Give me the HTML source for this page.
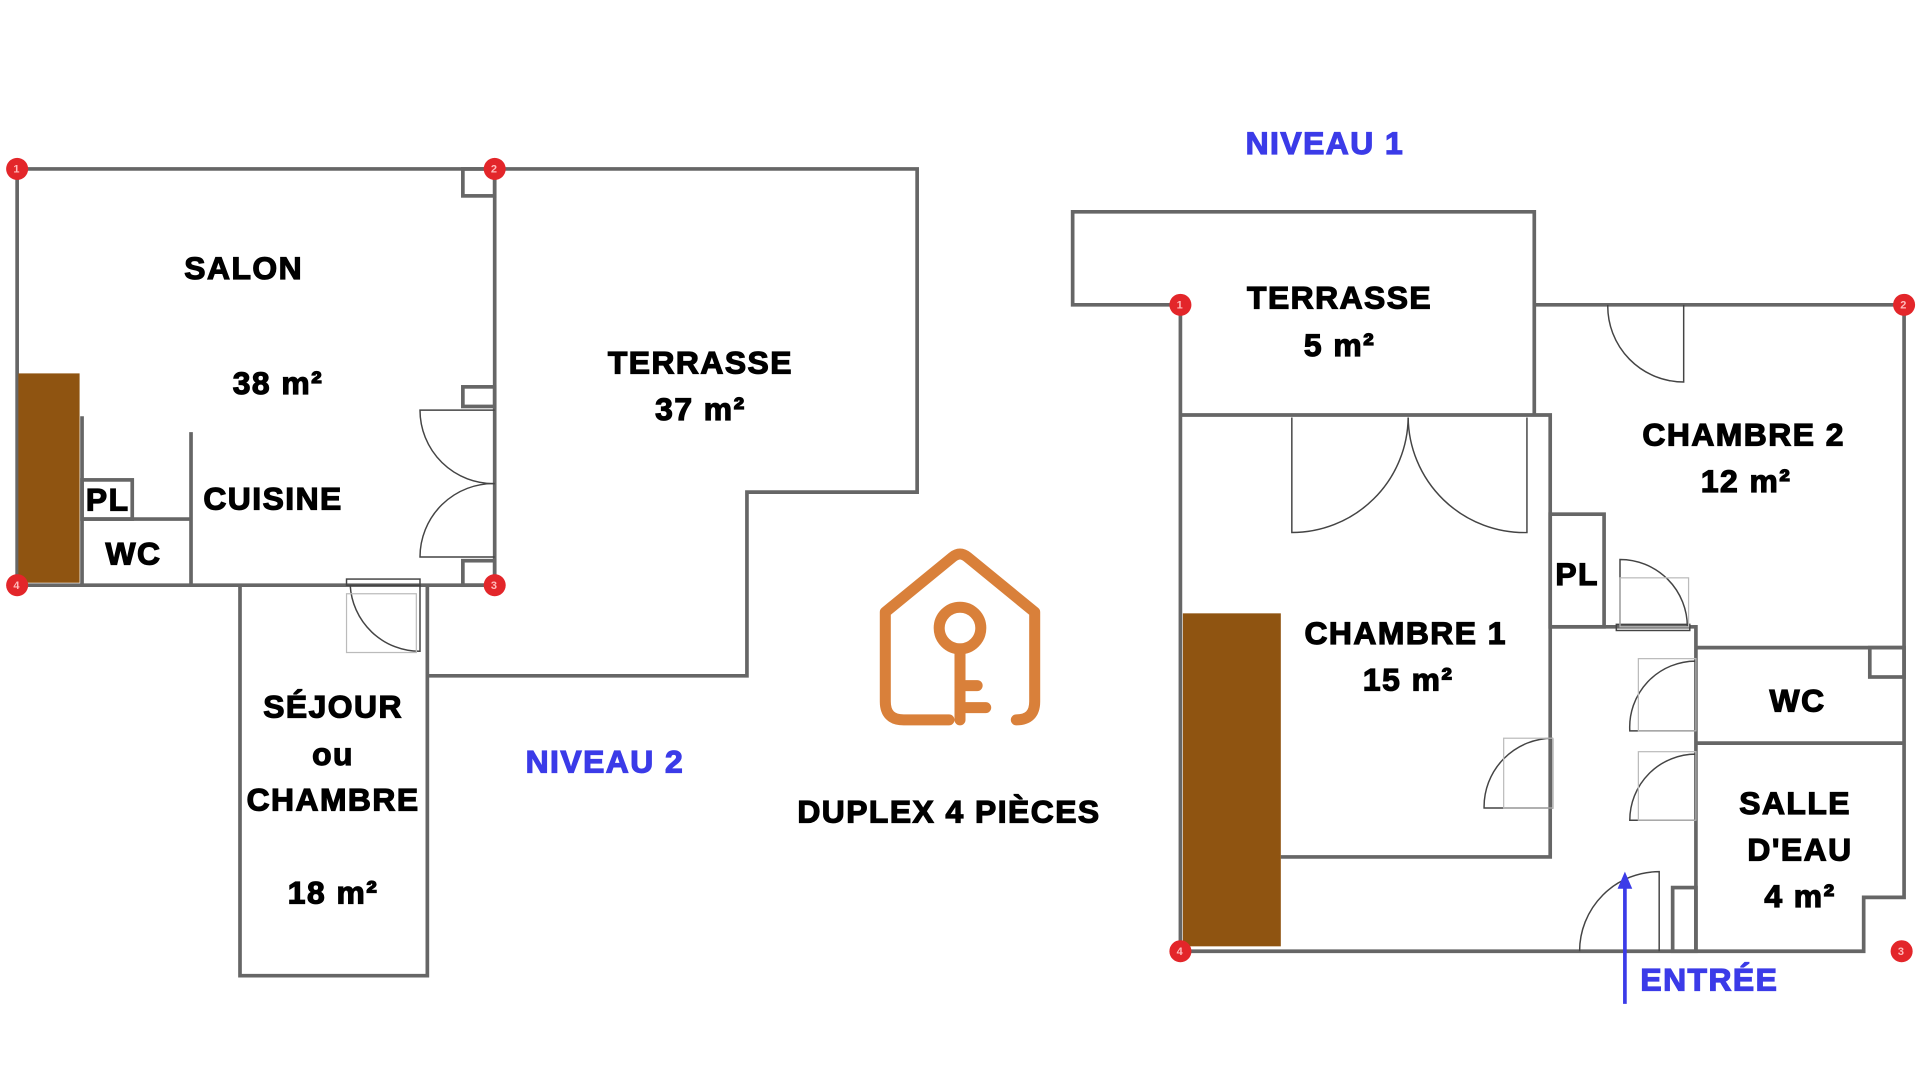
<!DOCTYPE html>
<html><head><meta charset="utf-8"><style>
html,body{margin:0;padding:0;background:#fff}
svg{display:block}
text{font-family:"Liberation Sans",sans-serif;font-weight:bold;text-anchor:middle;letter-spacing:1.2px}
</style></head><body>
<svg width="1920" height="1081" viewBox="0 0 1568 883" preserveAspectRatio="none">
<rect width="1568" height="883" fill="#fff"/>
<g fill="none" stroke="#666" stroke-width="3">
<path d="M14 138 H749 V402 H610 V552 H349"/>
<path d="M14 138 V478 H404 V138"/>
<path d="M196 478 V797 H349 V478"/>
<rect x="378" y="138" width="26" height="22"/>
<rect x="378" y="316" width="26" height="16"/>
<rect x="378" y="458" width="26" height="20"/>
<path d="M67 340 V478"/>
<rect x="67" y="392" width="41" height="32"/>
<path d="M67 424 H156"/>
<path d="M156 353 V478"/>
<path d="M964 249 H876 V173 H1253 V339"/>
<path d="M1253 249 H1555 V733 H1522 V777 H964 V249"/>
<path d="M964 339 H1266 V700 H1046"/>
<rect x="1266" y="420" width="44" height="92"/>
<path d="M1266 512 H1385 V777"/>
<path d="M1385 529 H1555"/>
<path d="M1385 607 H1555"/>
<rect x="1527" y="529" width="28" height="24"/>
<rect x="1366" y="725" width="19" height="52"/>
</g>
<g fill="none" stroke="#444" stroke-width="1.2">
<path d="M404 335 H343 A60 60 0 0 0 404 395"/>
<path d="M404 455 H343 A60 60 0 0 1 404 395"/>
<path d="M343 478 V532 A57 57 0 0 1 286 478"/>
<rect x="283" y="473" width="60" height="5"/>
<path d="M1055 341 V435 A95 95 0 0 0 1150 341"/>
<path d="M1247 341 V435 A95 95 0 0 1 1150 341"/>
<path d="M1375 249 V312 A62 62 0 0 1 1313 249"/>
<path d="M1323 512 V457 A55 55 0 0 1 1378 512"/>
<rect x="1320" y="510" width="60" height="5"/>
<path d="M1385 540 V597 H1331 A54 54 0 0 1 1385 540"/>
<path d="M1385 616 V670 H1331 A54 54 0 0 1 1385 616"/>
<path d="M1268 603 V660 H1212 A56 56 0 0 1 1268 603"/>
<path d="M1355 777 V712 A65 65 0 0 0 1290 777"/>
</g>
<g fill="none" stroke="#bbb" stroke-width="1">
<rect x="1323" y="472" width="56" height="40"/>
<rect x="1338" y="538" width="47" height="59"/>
<rect x="1338" y="614" width="47" height="56"/>
<rect x="1228" y="603" width="40" height="57"/>
<rect x="283" y="485" width="57" height="48"/>
</g>
<rect x="15" y="305" width="50" height="171" fill="#8f5411"/>
<rect x="966" y="501" width="80" height="272" fill="#8f5411"/>
<g fill="#e3262a">
<circle cx="14" cy="138" r="9"/><circle cx="404" cy="138" r="9"/>
<circle cx="14" cy="478" r="9"/><circle cx="404" cy="478" r="9"/>
<circle cx="964" cy="249" r="9"/><circle cx="1555" cy="249" r="9"/>
<circle cx="964" cy="777" r="9"/><circle cx="1553" cy="777" r="9"/>
</g>
<g font-size="9" fill="#fbb" style="font-weight:normal;letter-spacing:0">
<text x="14" y="141">1</text><text x="404" y="141">2</text>
<text x="14" y="481">4</text><text x="404" y="481">3</text>
<text x="964" y="252">1</text><text x="1555" y="252">2</text>
<text x="964" y="780">4</text><text x="1553" y="780">3</text>
</g>
<g fill="none" stroke="#d9803a" stroke-width="9" stroke-linecap="round" stroke-linejoin="round">
<path d="M775 588 H738 Q723 588 723 573 V500 L778 455 Q784 450 790 455 L845 500 V573 Q845 588 830 588"/>
<circle cx="784" cy="513" r="17"/>
<path d="M784 530 V588 M784 560 H798 M784 578 H805"/>
</g>
<path d="M1327 820 V722" stroke="#3b3be8" stroke-width="3"/>
<path d="M1321 726 L1327 712 L1333 726 Z" fill="#3b3be8"/>
<g font-size="26" fill="#000" stroke="#000" stroke-width="1">
<text x="199" y="228">SALON</text>
<text x="227" y="322">38 m²</text>
<text x="223" y="416">CUISINE</text>
<text x="88" y="417">PL</text>
<text x="109" y="461">WC</text>
<text x="572" y="305">TERRASSE</text>
<text x="572" y="343">37 m²</text>
<text x="272" y="586">SÉJOUR</text>
<text x="272" y="625">ou</text>
<text x="272" y="662">CHAMBRE</text>
<text x="272" y="738">18 m²</text>
<text x="775" y="672">DUPLEX 4 PIÈCES</text>
<text x="1094" y="252">TERRASSE</text>
<text x="1094" y="291">5 m²</text>
<text x="1424" y="364">CHAMBRE 2</text>
<text x="1426" y="402">12 m²</text>
<text x="1288" y="478">PL</text>
<text x="1148" y="526">CHAMBRE 1</text>
<text x="1150" y="564">15 m²</text>
<text x="1468" y="581">WC</text>
<text x="1466" y="665">SALLE</text>
<text x="1470" y="703">D'EAU</text>
<text x="1470" y="741">4 m²</text>
</g>
<g font-size="26" fill="#3b3be8" stroke="#3b3be8" stroke-width="1">
<text x="1082" y="126">NIVEAU 1</text>
<text x="494" y="631">NIVEAU 2</text>
<text x="1396" y="809">ENTRÉE</text>
</g>
</svg>
</body></html>
